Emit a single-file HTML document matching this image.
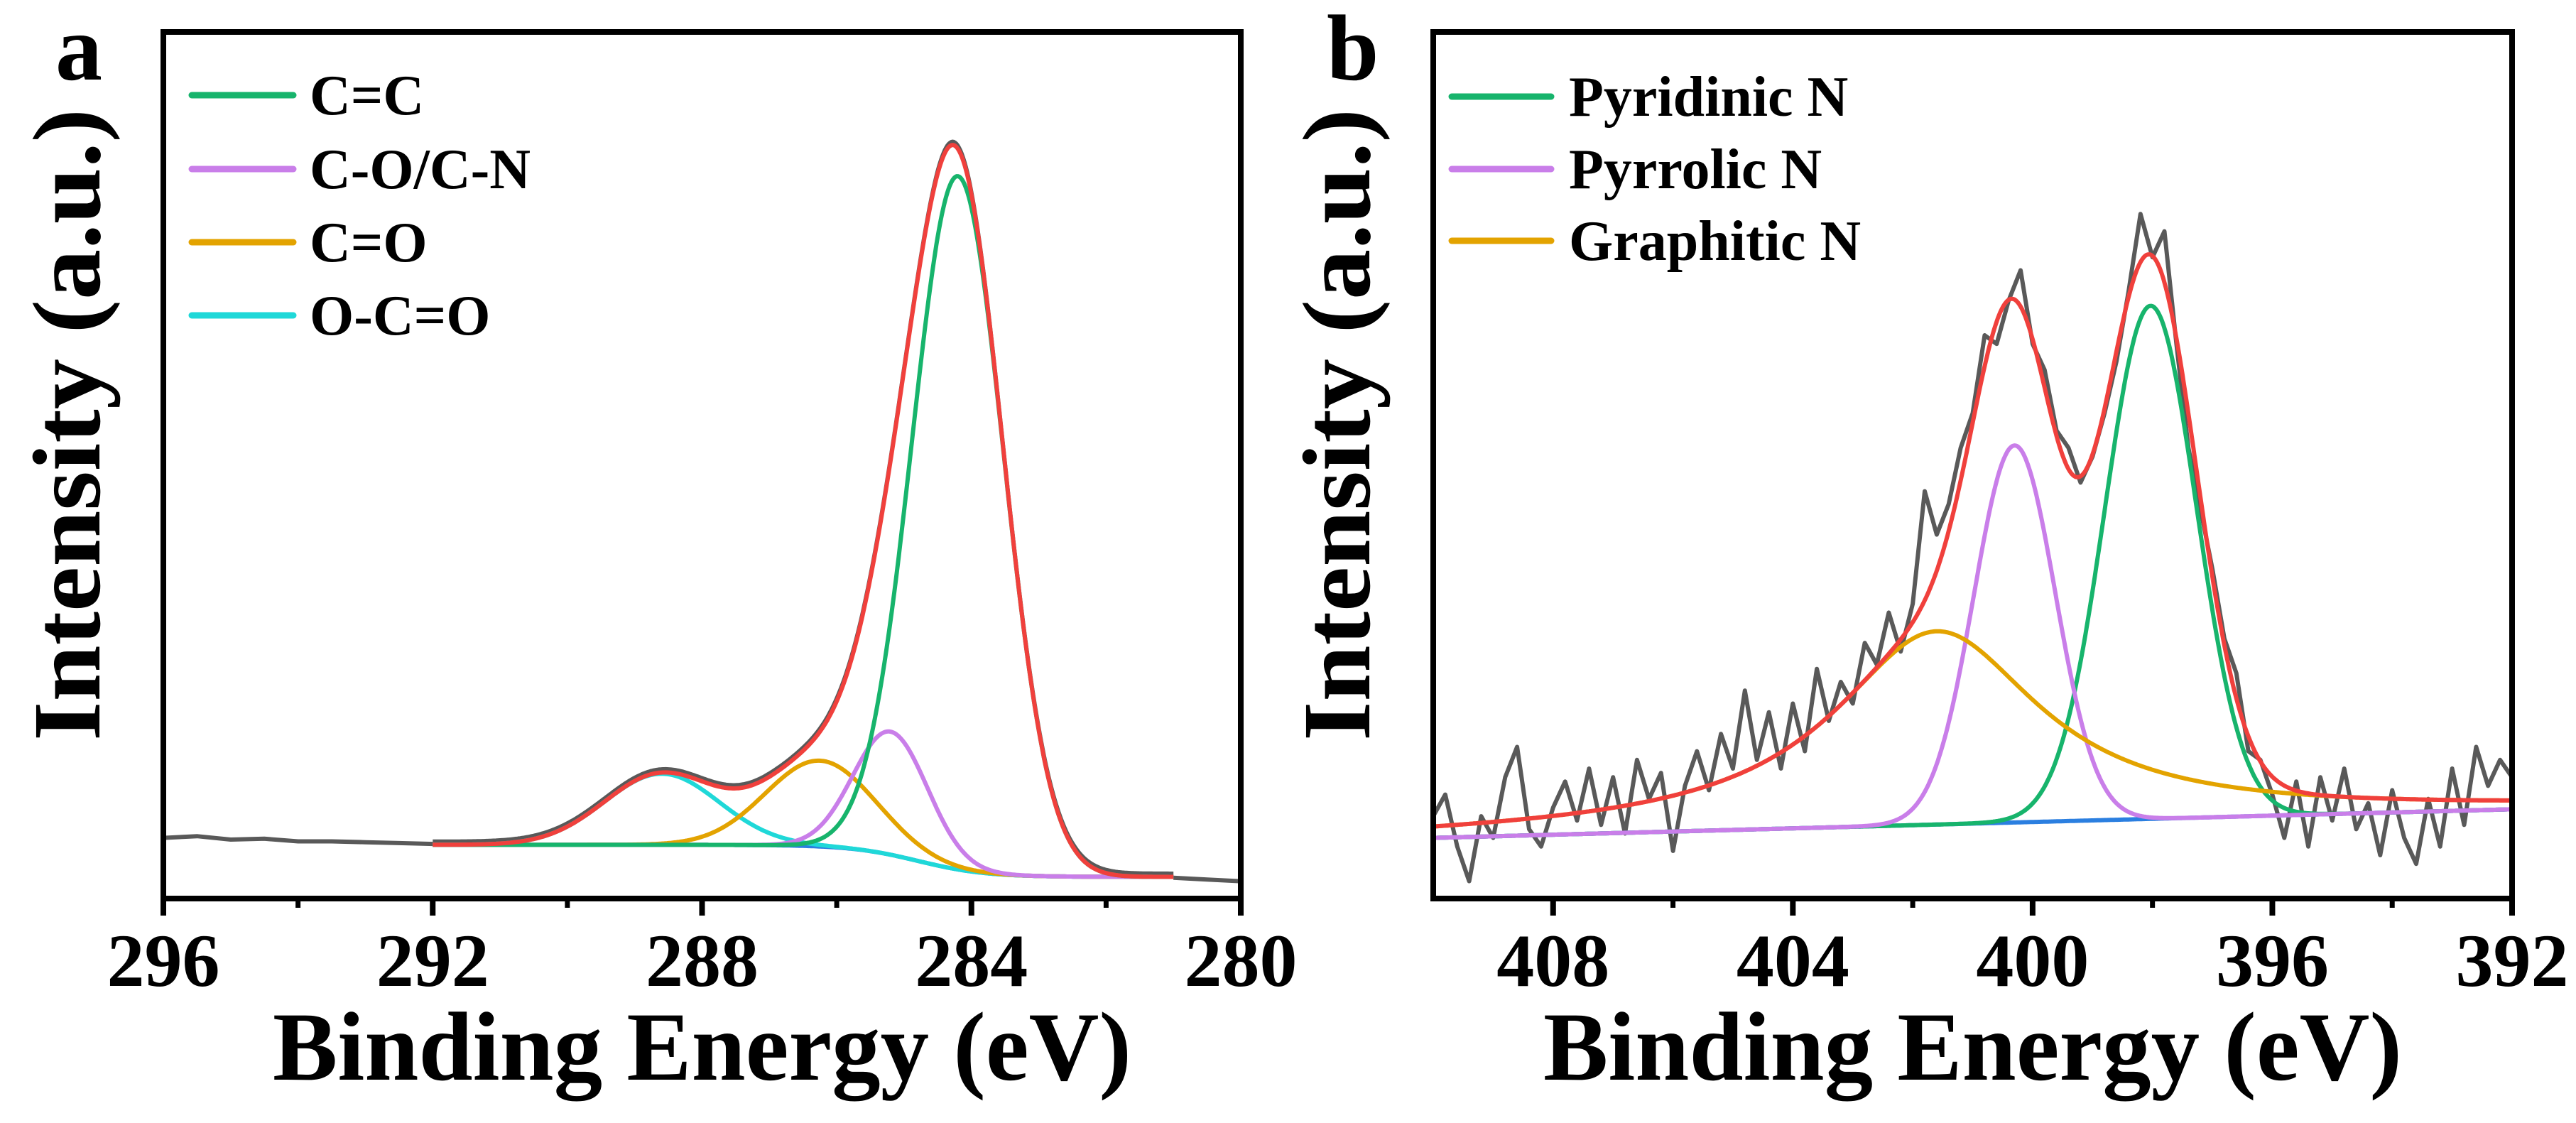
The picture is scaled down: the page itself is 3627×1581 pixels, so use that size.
<!DOCTYPE html>
<html><head><meta charset="utf-8"><style>
html,body{margin:0;padding:0;background:#fff;}
svg{display:block;}
text{font-family:"Liberation Serif",serif;font-weight:bold;fill:#000;}
</style></head><body>
<svg id="fig" width="3627" height="1581" viewBox="0 0 3627 1581" xmlns="http://www.w3.org/2000/svg">
<g id="pa"></g>
<g id="pb"></g>
</svg>
<script>
// ---------- Panel a data (C 1s) ----------
const aTicks = [296, 292, 288, 284, 280];
const aMinor = [294, 290, 286, 282];
const aNames = ["C=C", "C-O/C-N", "C=O", "O-C=O"];
const aCenters = [284.2, 285.2, 286.25, 288.6];
const aAmps = [800, 142, 99, 82];
const aFwhm = [1.6, 1.3, 1.9, 2.0];
const aBgHigh = 62;
const aBgLow = 25;
const aRawLeft = [70, 72, 68, 69, 66, 66, 65, 64, 63];   // 296 -> 292 step 0.5
const aRawRight = [24, 22, 20];                           // 281 -> 280 step 0.5
// ---------- Panel b data (N 1s) ----------
const bTicks = [408, 404, 400, 396, 392];
const bMinor = [406, 402, 398, 394];
const bNames = ["Pyridinic N", "Pyrrolic N", "Graphitic N"];
const bCenters = [398.03, 400.3, 401.6];
const bAmps = [592, 435, 223];
const bFwhm = [1.8, 1.6, 4.2];
const bBgLeft = 70;
const bBgRight = 103;
const bRaw = [95,120,60,20,95,70,140,175,80,60,105,135,90,150,85,140,75,160,115,145,55,130,170,125,190,150,240,160,215,150,225,170,265,205,250,225,295,270,330,285,340,470,420,455,520,560,650,640,690,725,640,610,540,520,480,510,560,620,700,790,740,770,640,520,450,380,300,260,170,160,120,70,135,60,140,90,150,80,110,50,125,70,40,115,60,150,85,175,130,160,140];

const NS = "http://www.w3.org/2000/svg";
const colors = ["#17b46c", "#c97ee9", "#e3a300", "#1fd8d8"];
const RED = "#f0403c", GRAY = "#595959", BLUE = "#2b7fe0";
const TOP = 45, BOT = 1265;
function yv(v){ return BOT - v * 1.22; }
function mk(parent, tag, attrs){ const e = document.createElementNS(NS, tag); for (const k in attrs) e.setAttribute(k, attrs[k]); parent.appendChild(e); return e; }
function gauss(e, c, a, w){ return a * Math.exp(-4 * Math.LN2 * ((e - c) / w) ** 2); }
function lor(e, c, a, w){ return a / (1 + ((e - c) / (w / 2)) ** 2); }
function pathD(pts){ return pts.map((p, i) => (i ? "L" : "M") + p[0].toFixed(1) + " " + p[1].toFixed(1)).join(""); }

function frame(g, L, R, x, ticks, minor, names, label, labelX, ytitleX){
  const ax = mk(g, "rect", {x: L, y: TOP, width: R - L, height: BOT - TOP, fill: "none", stroke: "#000", "stroke-width": 8});
  
  
  ticks.forEach(t => {
    const l = mk(g, "line", {x1: x(t), x2: x(t), y1: BOT, y2: BOT + 24, stroke: "#000", "stroke-width": 8});
    
    
    const tx = mk(g, "text", {x: x(t), y: 1388, "font-size": 106, "text-anchor": "middle"});
    tx.textContent = t;
    
    
  });
  minor.forEach(t => {
    const l = mk(g, "line", {x1: x(t), x2: x(t), y1: BOT, y2: BOT + 13, stroke: "#000", "stroke-width": 7});
    
    
  });
  const xt = mk(g, "text", {x: (L + R) / 2, y: 1520, "font-size": 138, "text-anchor": "middle", textLength: 1209, lengthAdjust: "spacingAndGlyphs"});
  xt.textContent = "Binding Energy (eV)";
  
  
  const yt = mk(g, "text", {x: 0, y: 0, "font-size": 136, "text-anchor": "middle", textLength: 890, lengthAdjust: "spacingAndGlyphs", transform: "translate(" + ytitleX + ",598) rotate(-90)"});
  yt.textContent = "Intensity (a.u.)";
  
  
  const pl = mk(g, "text", {x: labelX, y: 112, "font-size": 132});
  pl.textContent = label;
  
  
}
function legend(g, x0, x1, tx, ys, names){
  names.forEach((n, i) => {
    const l = mk(g, "line", {x1: x0, x2: x1, y1: ys[i], y2: ys[i], stroke: colors[i], "stroke-width": 9, "stroke-linecap": "round"});
    
    
    const t = mk(g, "text", {x: tx, y: ys[i] + 27, "font-size": 80});
    t.textContent = n;
    
    
  });
}

// ---------- Panel a ----------
(function(){
  const g = document.getElementById("pa");
  const L = 230, R = 1747;
  const x = e => L + (296 - e) * (R - L) / 16;
  const bg = e => aBgLow + (aBgHigh - aBgLow) * (1 + Math.tanh((e - 284.8) / 1.0)) / 2;
  const es = []; for (let e = 292; e >= 281 - 1e-9; e -= 0.02) es.push(e);
  const rl = mk(g, "path", {d: pathD(aRawLeft.map((v, i) => [x(296 - i * 0.5), yv(v)])), fill: "none", stroke: GRAY, "stroke-width": 6});
  
  
  const rr = mk(g, "path", {d: pathD(aRawRight.map((v, i) => [x(281 - i * 0.5), yv(v)])), fill: "none", stroke: GRAY, "stroke-width": 6});
  
  
  const rawEnv = mk(g, "path", {d: pathD(es.map(e => [x(e), yv(bg(e) + aCenters.reduce((s, c, i) => s + gauss(e, c, aAmps[i], aFwhm[i]), 0)) - 5])), fill: "none", stroke: GRAY, "stroke-width": 5});
  
  
  const bl = mk(g, "path", {d: pathD(es.map(e => [x(e), yv(bg(e))])), fill: "none", stroke: BLUE, "stroke-width": 6});
  
  
  [3, 2, 1, 0].forEach(i => {
    const p = mk(g, "path", {d: pathD(es.map(e => [x(e), yv(bg(e) + gauss(e, aCenters[i], aAmps[i], aFwhm[i]))])), fill: "none", stroke: colors[i], "stroke-width": 6});
    
    
  });
  const env = mk(g, "path", {d: pathD(es.map(e => [x(e), yv(bg(e) + aCenters.reduce((s, c, i) => s + gauss(e, c, aAmps[i], aFwhm[i]), 0))])), fill: "none", stroke: RED, "stroke-width": 6});
  
  
  frame(g, L, R, x, aTicks, aMinor, aNames, "a", 78, 140);
  legend(g, 270, 413, 436, [134, 238, 341, 444], aNames);
})();

// ---------- Panel b ----------
(function(){
  const g = document.getElementById("pb");
  const L = 2018, R = 3537;
  const x = e => L + (410 - e) * (R - L) / 18;
  const bg = e => bBgLeft + (bBgRight - bBgLeft) * (410 - e) / 18;
  const comp = (e, i) => i === 2 ? lor(e, bCenters[i], bAmps[i], bFwhm[i]) : gauss(e, bCenters[i], bAmps[i], bFwhm[i]);
  const es = []; for (let e = 410; e >= 392 - 1e-9; e -= 0.02) es.push(e);
  const step = 18 / (bRaw.length - 1);
  const raw = mk(g, "path", {d: pathD(bRaw.map((v, i) => [x(410 - i * step), yv(v)])), fill: "none", stroke: GRAY, "stroke-width": 6, "stroke-linejoin": "round"});
  
  
  const bl = mk(g, "path", {d: pathD(es.map(e => [x(e), yv(bg(e))])), fill: "none", stroke: BLUE, "stroke-width": 6});
  
  
  [0, 1, 2].forEach(i => {
    const p = mk(g, "path", {d: pathD(es.map(e => [x(e), yv(bg(e) + comp(e, i))])), fill: "none", stroke: colors[i], "stroke-width": 6});
    
    
  });
  const env = mk(g, "path", {d: pathD(es.map(e => [x(e), yv(bg(e) + comp(e, 0) + comp(e, 1) + comp(e, 2))])), fill: "none", stroke: RED, "stroke-width": 6});
  
  
  frame(g, L, R, x, bTicks, bMinor, bNames, "b", 1868, 1928);
  legend(g, 2044, 2184, 2209, [136, 238, 339], bNames);
})();
</script>
</body></html>
